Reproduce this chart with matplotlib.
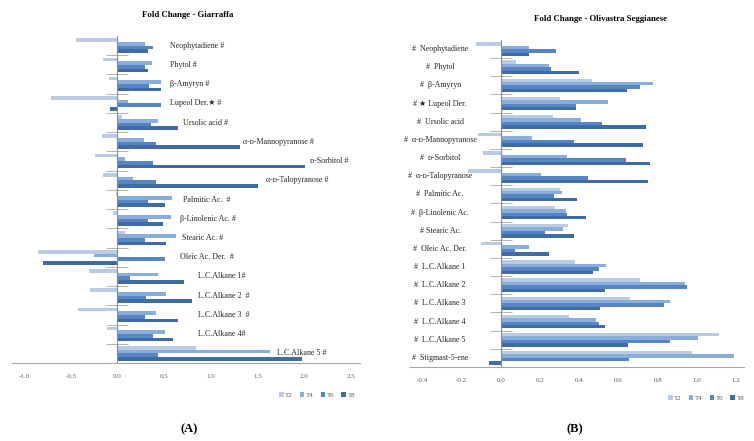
import matplotlib
matplotlib.use("Agg")
import matplotlib.pyplot as plt
import numpy as np
from matplotlib.patches import Patch

series = ["T2", "T4", "T6", "T8"]
colors = ["#b9cce4", "#8aaedb", "#5585c2", "#3f6ca6"]

# Panel A - Giarraffa
cats_a = ["Neophytadiene #", "Phytol #", "β-Amyryn #", "Lupeol Der.★ #", "Ursolic acid #",
          "α-ᴅ-Mannopyranose #", "ᴅ-Sorbitol #", "α-ᴅ-Talopyranose #", "Palmitic Ac.  #",
          "β-Linolenic Ac. #", "Stearic Ac. #", "Oleic Ac. Der.  #", "L.C.Alkane 1#",
          "L.C.Alkane 2  #", "L.C.Alkane 3  #", "L.C.Alkane 4#", "L.C.Alkane 5 #"]
a_T2 = [-0.44, -0.15, -0.09, -0.71, 0.05, -0.16, -0.24, -0.15, -0.015, -0.05, 0.08, -0.85, -0.31, -0.29, -0.42, -0.11, 0.84]
a_T4 = [0.30, 0.37, 0.47, 0.11, 0.44, 0.285, 0.08, 0.17, 0.58, 0.575, 0.63, -0.25, 0.43, 0.52, 0.41, 0.51, 1.63]
a_T6 = [0.385, 0.30, 0.34, 0.47, 0.36, 0.41, 0.38, 0.41, 0.325, 0.325, 0.30, 0.51, 0.135, 0.31, 0.30, 0.38, 0.43]
a_T8 = [0.325, 0.325, 0.47, -0.08, 0.65, 1.31, 2.01, 1.51, 0.51, 0.49, 0.52, -0.80, 0.71, 0.80, 0.65, 0.60, 1.975]
a_label_x = [0.56, 0.56, 0.56, 0.56, 0.70, 1.35, 2.06, 1.59, 0.70, 0.67, 0.69, 0.675, 0.86, 0.86, 0.86, 0.86, 1.71]
a_ticks = [-1.0, -0.5, 0.0, 0.5, 1.0, 1.5, 2.0, 2.5]

# Panel B - Olivastra Seggianese
cats_b = ["#  Neophytadiene", "#  Phytol", "#  β-Amyryn", "# ★ Lupeol Der.", "#  Ursolic acid",
          "#  α-ᴅ-Mannopyranose", "#  ᴅ-Sorbitol", "#  α-ᴅ-Talopyranose", "#  Palmitic Ac.",
          "#  β-Linolenic Ac.", "# Stearic Ac.", "#  Oleic Ac. Der.", "#  L.C.Alkane 1",
          "#  L.C.Alkane 2", "#  L.C.Alkane 3", "#  L.C.Alkane 4", "#  L.C.Alkane 5", "#  Stigmast-5-ene"]
b_T2 = [-0.128, 0.075, 0.466, 0.30, 0.266, -0.117, -0.092, -0.17, 0.30, 0.274, 0.342, -0.10, 0.378, 0.709, 0.66, 0.347, 1.114, 0.976]
b_T4 = [0.145, 0.245, 0.777, 0.546, 0.41, 0.16, 0.337, 0.204, 0.313, 0.33, 0.316, 0.143, 0.534, 0.939, 0.864, 0.486, 1.005, 1.187]
b_T6 = [0.28, 0.257, 0.709, 0.383, 0.515, 0.374, 0.636, 0.442, 0.272, 0.337, 0.224, 0.073, 0.498, 0.947, 0.83, 0.498, 0.864, 0.651]
b_T8 = [0.145, 0.40, 0.641, 0.383, 0.738, 0.723, 0.758, 0.748, 0.388, 0.434, 0.371, 0.247, 0.471, 0.53, 0.505, 0.532, 0.648, -0.063]
b_ticks = [-0.4, -0.2, 0.0, 0.2, 0.4, 0.6, 0.8, 1.0, 1.2]

FONT = ["Liberation Serif", "DejaVu Serif", "DejaVu Sans"]
plt.rcParams["font.family"] = FONT

fig = plt.figure(figsize=(7.54, 4.41), dpi=100)


def draw(ax, cats, vals, xlim, ticks):
    n = len(cats)
    y = np.arange(n)
    h = 0.19
    for i, (v, c) in enumerate(zip(vals, colors)):
        ax.barh(y + (i - 1.5) * h, v, height=h, color=c, edgecolor="none")
    ax.set_ylim(n - 0.5, -0.5)
    ax.set_xlim(*xlim)
    for s in ["top", "right"]:
        ax.spines[s].set_visible(False)
    ax.spines["left"].set_position(("data", 0))
    ax.spines["left"].set_color("#8c8c8c")
    ax.spines["left"].set_linewidth(0.8)
    ax.spines["bottom"].set_color("#a6a6a6")
    ax.spines["bottom"].set_linewidth(0.8)
    ax.set_yticks([])
    ax.set_yticks(np.arange(0.5, n - 0.5, 1.0), minor=True)
    ax.tick_params(axis="y", which="minor", direction="inout", length=16,
                   color="#a6a6a6", width=0.6)
    ax.set_xticks(ticks)
    ax.set_xticklabels([f"{t:.1f}" for t in ticks])
    ax.tick_params(axis="x", length=0, labelsize=5, labelcolor="#595959", pad=8)
    ax.patch.set_alpha(0)
    return y


axA = fig.add_axes([12 / 754, 1 - 363 / 441, 348 / 754, 327 / 441])
yA = draw(axA, cats_a, [a_T2, a_T4, a_T6, a_T8], (-1.13, 2.6), a_ticks)
for yy, lab, lx in zip(yA, cats_a, a_label_x):
    axA.text(lx, yy, lab, fontsize=5.8, ha="left", va="center", color="#262626")

axB = fig.add_axes([410 / 754, 1 - 367 / 441, 334 / 754, 327 / 441])
yB = draw(axB, cats_b, [b_T2, b_T4, b_T6, b_T8], (-0.464, 1.24), b_ticks)
for yy, lab in zip(yB, cats_b):
    axB.text(-0.31, yy, lab, fontsize=5.8, ha="center", va="center", color="#262626")

fig.text(188 / 754, 1 - 15 / 441, "Fold Change - Giarraffa", fontsize=6.3,
         fontweight="bold", ha="center", va="center")
fig.text(601 / 754, 1 - 19 / 441, "Fold Change - Olivastra Seggianese", fontsize=6.3,
         fontweight="bold", ha="center", va="center")

handles = [Patch(facecolor=c, edgecolor="none", label=s) for s, c in zip(series, colors)]
for cx, cy in [(317 / 754, 1 - 395 / 441), (706 / 754, 1 - 398 / 441)]:
    fig.legend(handles=handles, loc="center", bbox_to_anchor=(cx, cy), ncol=4,
               frameon=False, fontsize=5, handlelength=0.7, handleheight=0.7,
               handletextpad=0.2, columnspacing=1.0, labelcolor="#595959")

fig.text(189 / 754, 1 - 429 / 441, "(A)", fontsize=9, fontweight="bold", ha="center", va="center")
fig.text(575 / 754, 1 - 429 / 441, "(B)", fontsize=9, fontweight="bold", ha="center", va="center")

fig.savefig("out.png", dpi=100)
